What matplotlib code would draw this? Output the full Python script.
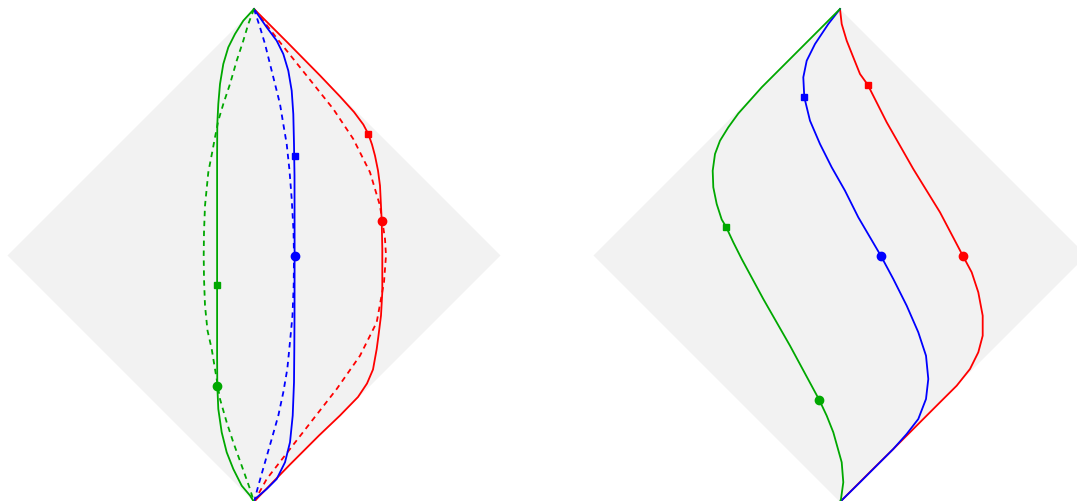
import numpy as np
import matplotlib.pyplot as plt

# diagram units: diamond vertices at (+-R, 0) and (0, +-R)
R = 246.5

# ---- left diagram: curves as (X, T) points ----
left_green = [(0, 246.5), (-10.7, 234.8), (-19, 221.5), (-25.7, 208.2), (-30.7, 191.5),
              (-34, 171.5), (-35.7, 151.5), (-36.7, 131.5), (-36.9, 100), (-36.9, 50),
              (-36.9, 0), (-36.9, -50), (-36.9, -100), (-36.7, -130), (-35.7, -153.5),
              (-32.3, -176.8), (-27.3, -196.8), (-20.7, -213.5), (-12.3, -230.2),
              (-4, -240), (0, -246.5)]
left_green_dash = [(0, 246.5), (-5.7, 231.5), (-10.7, 214.8), (-17.3, 194.8), (-24, 171.5),
                   (-30.7, 151.5), (-35.7, 134.8), (-39, 118.2), (-41.5, 104.8), (-45.7, 83.2),
                   (-49, 49.8), (-50, 23.2), (-50.3, 0), (-50, -23), (-49, -50), (-46.5, -75),
                   (-42.3, -93.5), (-39, -113.5), (-34, -143.5), (-27.3, -166.8),
                   (-20.7, -186.8), (-12.3, -210.2), (-4, -233.5), (0, -246.5)]
left_blue = [(0, 246.5), (12.7, 228.2), (22.7, 214.8), (29.3, 201.5), (34.3, 184.8),
             (37.7, 164.8), (39.3, 141.5), (40, 111.5), (40.5, 80), (40.6, 0),
             (40.5, -60), (40.3, -93.5), (40, -126.8), (38.7, -160.2), (36, -186.8),
             (31, -206.8), (22.7, -223.5), (12.7, -233.5), (1, -243.5), (0, -246.5)]
left_blue_dash = [(0, 246.5), (6, 228.2), (11, 211.5), (16, 191.5), (21, 171.5), (26, 151.5),
                  (29.3, 131.5), (32.7, 111.5), (35.5, 85), (37.7, 56.5), (39.5, 25), (40, 0),
                  (39.7, -30), (38.5, -60), (35.3, -93.5), (33.3, -113.5), (29.3, -136.8),
                  (24.3, -160.2), (17.7, -183.5), (11, -206.8), (4.3, -230.2), (0, -246.5)]
left_red = [(0, 246.5), (33, 213.5), (66, 180), (86, 159), (100, 143.5), (109.3, 131),
            (114.3, 121.5), (118, 111), (121, 99.8), (124, 85), (126, 69.8), (127.7, 34.8),
            (128.3, 6.5), (128.3, -36.5), (127, -60), (124.5, -80), (122.7, -93.5),
            (119, -114), (113, -128), (104, -141.5), (86, -160), (65, -180), (36, -209),
            (4, -242), (0, -246.5)]
left_red_dash = [(0, 246.5), (2.7, 243.2), (26, 213.2), (52.7, 179.8), (79.3, 146.5),
                 (99.3, 116.5), (116, 83.2), (126, 49.8), (131, 16.5), (132, 0),
                 (130, -26.8), (122.7, -66.8), (106, -100.2), (82.7, -133.5), (59.3, -163.5),
                 (36, -193.5), (12.7, -223.5), (0, -246.5)]
left_squares = {'g': (-36.7, -29.2), 'b': (40.7, 99.8), 'r': (114.3, 121.5)}
left_circles = {'g': (-36.7, -130.2), 'b': (40.7, 0), 'r': (127.7, 34.8)}

# ---- right diagram ----
right_green = [(0, 246.5), (-45, 201.5), (-78.3, 168.2), (-101.7, 142), (-111.7, 128.2),
               (-120, 114.8), (-125, 101.5), (-127.3, 84.8), (-126.7, 68.2), (-123.3, 51.5),
               (-118.3, 36), (-114, 28.8), (-106.7, 13.2), (-98.3, -3.5), (-76.7, -43.5),
               (-50, -90.2), (-20.7, -144.5), (-13.3, -160.2), (-6.7, -176.8), (1.7, -206.8),
               (3.3, -226.8), (1, -243.5), (0, -246.5)]
right_blue = [(0, 246.5), (-11.7, 231.5), (-25, 211.5), (-33.3, 194.8), (-36.7, 178.2),
              (-35.7, 158.2), (-30, 134.8), (-20, 111.5), (-8.3, 88.2), (5, 64.8),
              (18.3, 38.2), (40.7, 0), (53.3, -23.5), (66.7, -50.2), (78.3, -76.8),
              (86, -100.2), (88.3, -123.5), (86, -143.5), (78.3, -163.5), (66.7, -178.5),
              (53.3, -193.5), (20, -226.8), (0, -246.5)]
right_red = [(0, 246.5), (1.7, 231.5), (6.7, 214.8), (13.3, 198.2), (20, 181.5),
             (27.7, 170.8), (46.7, 133.2), (73.3, 86.5), (100, 43.2), (122.7, 0),
             (131.7, -16.8), (138.3, -36.8), (142.7, -60.2), (142.7, -80.2), (138.3, -96.8),
             (130, -113.5), (116.7, -130.2), (100, -146.8), (80, -166.8), (53.3, -193.5),
             (30, -216.5), (0, -246.5)]
right_squares = {'g': (-114, 28.8), 'b': (-35.7, 158.2), 'r': (27.7, 170.8)}
right_circles = {'g': (-20.7, -144.5), 'b': (40.7, 0), 'r': (122.7, 0)}

colors = {'g': '#00a800', 'b': '#0000ff', 'r': '#ff0000'}
diamond_x = [R, 0, -R, 0]
diamond_y = [0, R, 0, -R]

W, H = 1077, 502
fig = plt.figure(figsize=(W / 100, H / 100), dpi=100)
split = 547
ax1 = fig.add_axes([0, 0, split / W, 1])
ax2 = fig.add_axes([split / W, 0, (W - split) / W, 1])
ax1.set_xlim(-254, split - 254)
ax2.set_xlim(split - 840, W - 840)
for ax in (ax1, ax2):
    ax.set_ylim(256.5 - H, 256.5)
    ax.axis('off')
    ax.fill(diamond_x, diamond_y, color='#f2f2f2', lw=0, zorder=0)


def curve(ax, pts, c, dashed=False):
    xy = np.array(pts)
    if dashed:
        ax.plot(xy[:, 0], xy[:, 1], color=colors[c], lw=1.3, dashes=(3, 2.5), zorder=2)
    else:
        ax.plot(xy[:, 0], xy[:, 1], color=colors[c], lw=1.3, zorder=3,
                solid_joinstyle='round')


curve(ax1, left_green_dash, 'g', True)
curve(ax1, left_blue_dash, 'b', True)
curve(ax1, left_red_dash, 'r', True)
curve(ax1, left_red, 'r')
curve(ax1, left_blue, 'b')
curve(ax1, left_green, 'g')

curve(ax2, right_red, 'r')
curve(ax2, right_blue, 'b')
curve(ax2, right_green, 'g')

for ax, sq, ci in ((ax1, left_squares, left_circles), (ax2, right_squares, right_circles)):
    for c in sq:
        ax.plot(*sq[c], 's', color=colors[c], ms=5, zorder=4)
        ax.plot(*ci[c], 'o', color=colors[c], ms=6, zorder=4)

fig.savefig('out.png', dpi=100)
